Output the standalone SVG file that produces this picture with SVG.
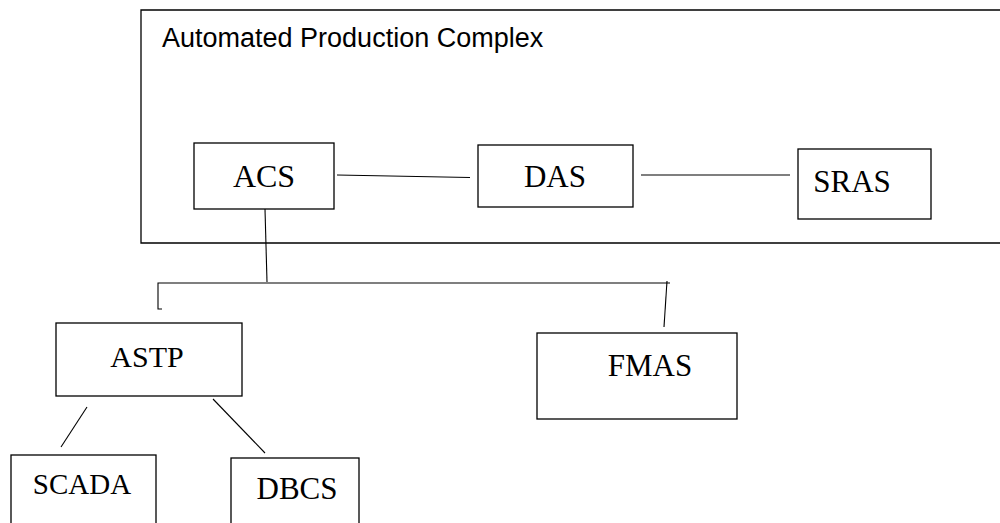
<svg xmlns="http://www.w3.org/2000/svg" width="1000" height="523" viewBox="0 0 1000 523">
  <style>
    .box { fill: #ffffff; stroke: #000000; stroke-width: 1.3; }
    .frame { fill: none; stroke: #000000; stroke-width: 1.3; }
    .wire { fill: none; stroke: #000000; stroke-width: 1.1; }
    .lbl { font-family: "Liberation Serif", "Times New Roman", serif; font-size: 31px; fill: #000000; text-anchor: middle; }
    .title { font-family: "Liberation Sans", Arial, sans-serif; font-size: 27px; fill: #000000; }
  </style>
  <rect width="1000" height="523" fill="#ffffff"/>

  <!-- enclosing complex boundary (open past the right edge) -->
  <g id="complex">
    <path class="frame" d="M1002 10 H141 V243 H1002"/>
    <text class="title" x="162" y="47">Automated Production Complex</text>
  </g>

  <!-- links between systems -->
  <g id="connectors">
    <line class="wire" x1="337" y1="175" x2="470" y2="177.5"/>
    <line class="wire" x1="641" y1="175" x2="790" y2="175"/>
    <line class="wire" x1="265" y1="209" x2="267" y2="282"/>
    <path class="wire" d="M162 309 H158 V283 H670"/>
    <line class="wire" x1="667" y1="281" x2="664" y2="327"/>
    <line class="wire" x1="87" y1="407" x2="61" y2="447"/>
    <line class="wire" x1="213" y1="399" x2="265" y2="453"/>
  </g>

  <g id="acs">
    <rect class="box" x="194" y="143" width="140" height="66"/>
    <text class="lbl" x="264" y="187" style="font-size:32px">ACS</text>
  </g>
  <g id="das">
    <rect class="box" x="478" y="145" width="155" height="62"/>
    <text class="lbl" x="555" y="187">DAS</text>
  </g>
  <g id="sras">
    <rect class="box" x="798" y="149" width="133" height="70"/>
    <text class="lbl" x="852" y="192">SRAS</text>
  </g>
  <g id="astp">
    <rect class="box" x="56" y="323" width="186" height="73"/>
    <text class="lbl" x="147" y="367" style="font-size:30px">ASTP</text>
  </g>
  <g id="fmas">
    <rect class="box" x="537" y="333" width="200" height="86"/>
    <text class="lbl" x="650" y="376">FMAS</text>
  </g>
  <g id="scada">
    <rect class="box" x="11" y="455" width="145" height="80"/>
    <text class="lbl" x="82" y="494" style="font-size:29px">SCADA</text>
  </g>
  <g id="dbcs">
    <rect class="box" x="231" y="458" width="128" height="80"/>
    <text class="lbl" x="297" y="499">DBCS</text>
  </g>
</svg>
